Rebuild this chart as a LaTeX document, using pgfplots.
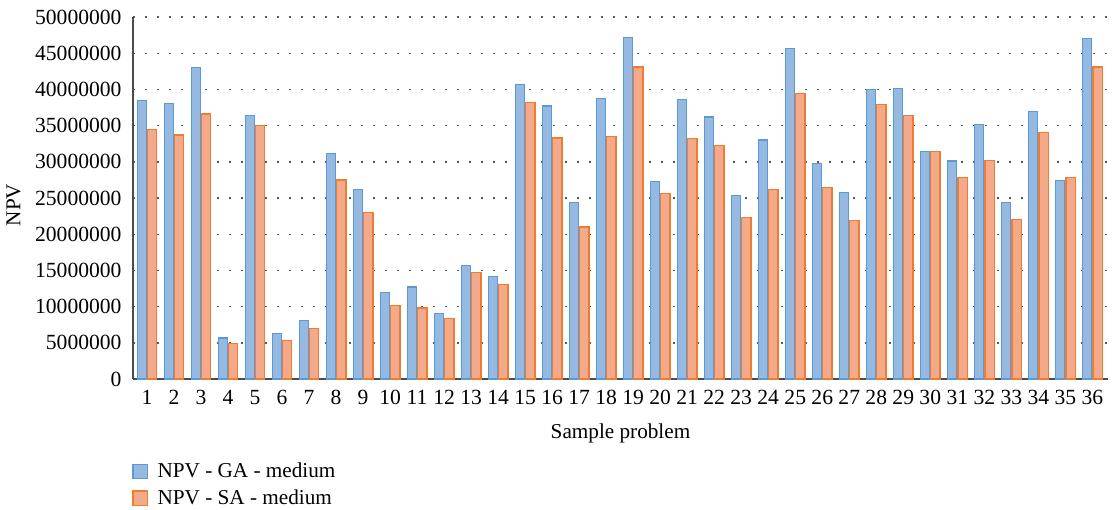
\documentclass[border=0pt]{standalone}
\usepackage{fontspec}
\setmainfont{Liberation Serif}
\usepackage{pgfplots}
\pgfplotsset{compat=1.18}
\definecolor{gafill}{RGB}{149,185,225}
\definecolor{gadraw}{RGB}{91,155,213}
\definecolor{safill}{RGB}{244,170,138}
\definecolor{sadraw}{RGB}{237,125,49}
\begin{document}
\fontsize{10.6}{13}\selectfont
\begin{tikzpicture}
\path[use as bounding box] (-66.5pt,-65pt) rectangle (490pt,189.5pt);
\begin{axis}[
  at={(0pt,0pt)}, anchor=origin,
  scale only axis, width=487.5pt, height=181pt,
  ybar=0.6pt, bar width=4.6pt,
  xmin=0.48, xmax=36.58, ymin=0, ymax=50000000,
  xtick={1,...,36},
  ytick={0,5000000,...,50000000},
  scaled y ticks=false,
  /pgf/number format/assume math mode=true,
  yticklabel style={/pgf/number format/fixed,/pgf/number format/1000 sep={},/pgf/number format/precision=0, font=\fontsize{10.8}{13}\selectfont, xshift=-2pt},
  xticklabel style={font=\fontsize{10.8}{13}\selectfont, yshift=-2pt},
  axis x line*=bottom, axis y line*=left,
  axis line style={draw=black!70, line width=0.8pt},
  major tick length=0pt,
  ymajorgrids, grid style={dash pattern=on 0.9pt off 5.1pt, black!65, line width=0.7pt},
  xlabel={Sample problem}, ylabel={NPV},
  xlabel style={yshift=-2pt},
  ylabel style={yshift=0pt, xshift=-3.5pt},
  legend style={at={(0,0)}, anchor=north west, yshift=-37.5pt, xshift=-3.5pt, draw=none, fill=none, legend cell align=left, row sep=0.5pt, font=\fontsize{10.6}{13}\selectfont},
  legend image code/.code={\draw[#1] (0pt,-3.6pt) rectangle (7.4pt,3.6pt); \path (10pt,0pt);},
]
\addplot[fill=gafill, draw=gadraw, line width=0.6pt] coordinates {
(1,38500000)(2,38000000)(3,43000000)(4,5650000)(5,36400000)(6,6300000)
(7,8100000)(8,31100000)(9,26200000)(10,11900000)(11,12700000)(12,9050000)
(13,15700000)(14,14200000)(15,40700000)(16,37700000)(17,24400000)(18,38700000)
(19,47200000)(20,27300000)(21,38600000)(22,36200000)(23,25400000)(24,33000000)
(25,45600000)(26,29800000)(27,25800000)(28,40000000)(29,40100000)(30,31400000)
(31,30100000)(32,35200000)(33,24400000)(34,36900000)(35,27400000)(36,47000000)};
\addplot[fill=safill, draw=sadraw, line width=0.6pt] coordinates {
(1,34500000)(2,33700000)(3,36600000)(4,4900000)(5,35000000)(6,5300000)
(7,7000000)(8,27500000)(9,23000000)(10,10200000)(11,9800000)(12,8400000)
(13,14750000)(14,13000000)(15,38200000)(16,33300000)(17,21000000)(18,33500000)
(19,43100000)(20,25600000)(21,33200000)(22,32300000)(23,22300000)(24,26200000)
(25,39400000)(26,26400000)(27,21900000)(28,37900000)(29,36350000)(30,31400000)
(31,27800000)(32,30200000)(33,22000000)(34,34000000)(35,27850000)(36,43100000)};
\legend{NPV - GA - medium, NPV - SA - medium}
\end{axis}
\end{tikzpicture}
\end{document}
